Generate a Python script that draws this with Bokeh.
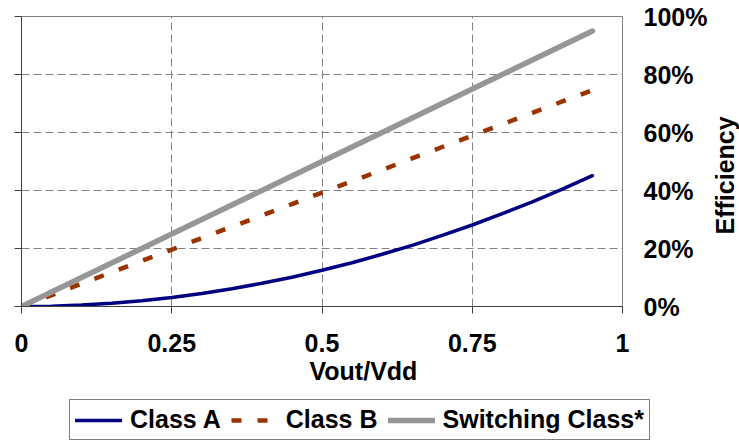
from math import pi

from bokeh.embed import file_html
from bokeh.layouts import column, row
from bokeh.models import (FixedTicker, Label, Legend, LegendItem, LinearAxis,
                          Range1d, Title)
from bokeh.plotting import figure
from bokeh.resources import INLINE

# Normalised output swing and the efficiency (%) of each amplifier class
vout_vdd = [0.0, 0.05, 0.10, 0.15, 0.20, 0.25, 0.30, 0.35, 0.40, 0.45,
            0.50, 0.55, 0.60, 0.65, 0.70, 0.75, 0.80, 0.85, 0.90, 0.95]
class_a = [0.0, 0.1, 0.5, 1.1, 2.0, 3.1, 4.5, 6.1, 8.0, 10.1,
           12.5, 15.1, 18.0, 21.1, 24.5, 28.1, 32.0, 36.1, 40.5, 45.1]
class_b = [0.0, 3.9, 7.9, 11.8, 15.7, 19.6, 23.6, 27.5, 31.4, 35.3,
           39.3, 43.2, 47.1, 51.1, 55.0, 58.9, 62.8, 66.8, 70.7, 74.6]
switching = [0.0, 5.0, 10.0, 15.0, 20.0, 25.0, 30.0, 35.0, 40.0, 45.0,
             50.0, 55.0, 60.0, 65.0, 70.0, 75.0, 80.0, 85.0, 90.0, 95.0]

series_names = ["Class A", "Class B", "Switching Class*"]

x_ticks = [0, 0.25, 0.5, 0.75, 1]
x_tick_labels = ["0", "0.25", "0.5", "0.75", "1"]
y_ticks = [0, 20, 40, 60, 80, 100]
y_tick_labels = ["0%", "20%", "40%", "60%", "80%", "100%"]

FONT = "Liberation Sans"
FONT_SIZE = "25px"
AXIS_COLOR = "#404040"
GRID_COLOR = "#808080"

# Line styles per series
styles = [
    dict(line_color="#000080", line_width=3.5, line_cap="round"),
    dict(line_color="#993300", line_width=4.5, line_dash="10 16"),
    dict(line_color="#969696", line_width=5.5, line_cap="round"),
]
series = [class_a, class_b, switching]


def unaligned(fig):
    # let each figure keep its own frame inside the layout
    if "frame_align" in fig.properties():
        fig.frame_align = False
    return fig


p = unaligned(figure(
    width=710, height=395,
    output_backend="svg", toolbar_location=None,
    x_range=Range1d(0, 1), y_range=Range1d(0, 100),
    min_border_left=21, min_border_right=88,
    min_border_top=16, min_border_bottom=89,
    outline_line_color=GRID_COLOR, outline_line_width=1,
    background_fill_color="white", border_fill_color="white",
))

# Left axis: ticks only
left = p.left[0]
left.ticker = FixedTicker(ticks=y_ticks)
left.major_label_overrides = {t: "" for t in y_ticks}
left.major_tick_out = 7
left.major_tick_in = 0
left.minor_tick_line_color = None
left.axis_line_color = AXIS_COLOR
left.major_tick_line_color = AXIS_COLOR

# Bottom axis
bottom = p.below[0]
bottom.ticker = FixedTicker(ticks=x_ticks)
bottom.major_label_overrides = dict(zip(x_ticks, x_tick_labels))
bottom.major_tick_out = 7
bottom.major_tick_in = 0
bottom.minor_tick_line_color = None
bottom.axis_line_color = AXIS_COLOR
bottom.major_tick_line_color = AXIS_COLOR
bottom.major_label_standoff = 20
bottom.major_label_text_font = FONT
bottom.major_label_text_font_style = "bold"
bottom.major_label_text_font_size = FONT_SIZE
bottom.major_label_text_color = "black"

# Right axis: percentage labels
right = LinearAxis(ticker=FixedTicker(ticks=y_ticks))
right.major_label_overrides = dict(zip(y_ticks, y_tick_labels))
right.axis_line_color = None
right.major_tick_line_color = None
right.minor_tick_line_color = None
right.major_tick_out = 0
right.major_tick_in = 0
right.major_label_standoff = 21
right.major_label_text_font = FONT
right.major_label_text_font_style = "bold"
right.major_label_text_font_size = FONT_SIZE
right.major_label_text_color = "black"
p.add_layout(right, "right")

# Dashed grid
for grid in (p.xgrid[0], p.ygrid[0]):
    grid.grid_line_color = GRID_COLOR
    grid.grid_line_dash = "8 4"
    grid.grid_line_width = 1
p.xgrid[0].ticker = FixedTicker(ticks=x_ticks)
p.ygrid[0].ticker = FixedTicker(ticks=y_ticks)

# Efficiency curves
for values, style in zip(series, styles):
    p.line(vout_vdd, values, **style)

# X axis title, below the tick labels
p.add_layout(Title(text="Vout/Vdd", align="left", offset=288, standoff=0,
                   text_font=FONT, text_font_style="bold",
                   text_font_size=FONT_SIZE, text_color="black"), "below")

# Narrow strip on the right holding the upward-reading y axis title
eff_fig = unaligned(figure(
    width=29, height=395,
    output_backend="svg", toolbar_location=None,
    x_range=Range1d(0, 1), y_range=Range1d(0, 100),
    x_axis_location=None, y_axis_location=None,
    min_border_left=0, min_border_right=0,
    min_border_top=16, min_border_bottom=89,
    outline_line_color=None,
    background_fill_color="white", border_fill_color="white",
))
eff_fig.xgrid.visible = False
eff_fig.ygrid.visible = False
eff_fig.add_layout(Label(x=14.5, y=45.2, x_units="screen", y_units="data",
                         text="Efficiency", angle=pi / 2,
                         text_align="center", text_baseline="middle",
                         text_font=FONT, text_font_style="bold",
                         text_font_size=FONT_SIZE, text_color="black"))

# Legend strip under the chart; its series sit outside the strip's view,
# so only the legend swatches show
leg_fig = unaligned(figure(
    width=739, height=46,
    output_backend="svg", toolbar_location=None,
    x_range=Range1d(0, 1), y_range=Range1d(-300, -200),
    x_axis_location=None, y_axis_location=None,
    min_border=0, outline_line_color=None,
    background_fill_color="white", border_fill_color="white",
))
leg_fig.xgrid.visible = False
leg_fig.ygrid.visible = False
swatches = [leg_fig.line(vout_vdd, values, **style)
            for values, style in zip(series, styles)]

legend = Legend(
    items=[LegendItem(label=name, renderers=[r])
           for name, r in zip(series_names, swatches)],
    orientation="horizontal",
    location=(69, 1),
    border_line_color="black", border_line_width=1,
    background_fill_color="white", background_fill_alpha=1,
    label_text_font=FONT, label_text_font_style="bold",
    label_text_font_size=FONT_SIZE, label_text_color="black",
    glyph_width=47, glyph_height=20, label_standoff=8,
    spacing=10, padding=5, margin=0,
)
leg_fig.add_layout(legend)

layout = column(row(p, eff_fig, spacing=0), leg_fig, spacing=0)
open("out.html", "w").write(file_html(layout, INLINE))
